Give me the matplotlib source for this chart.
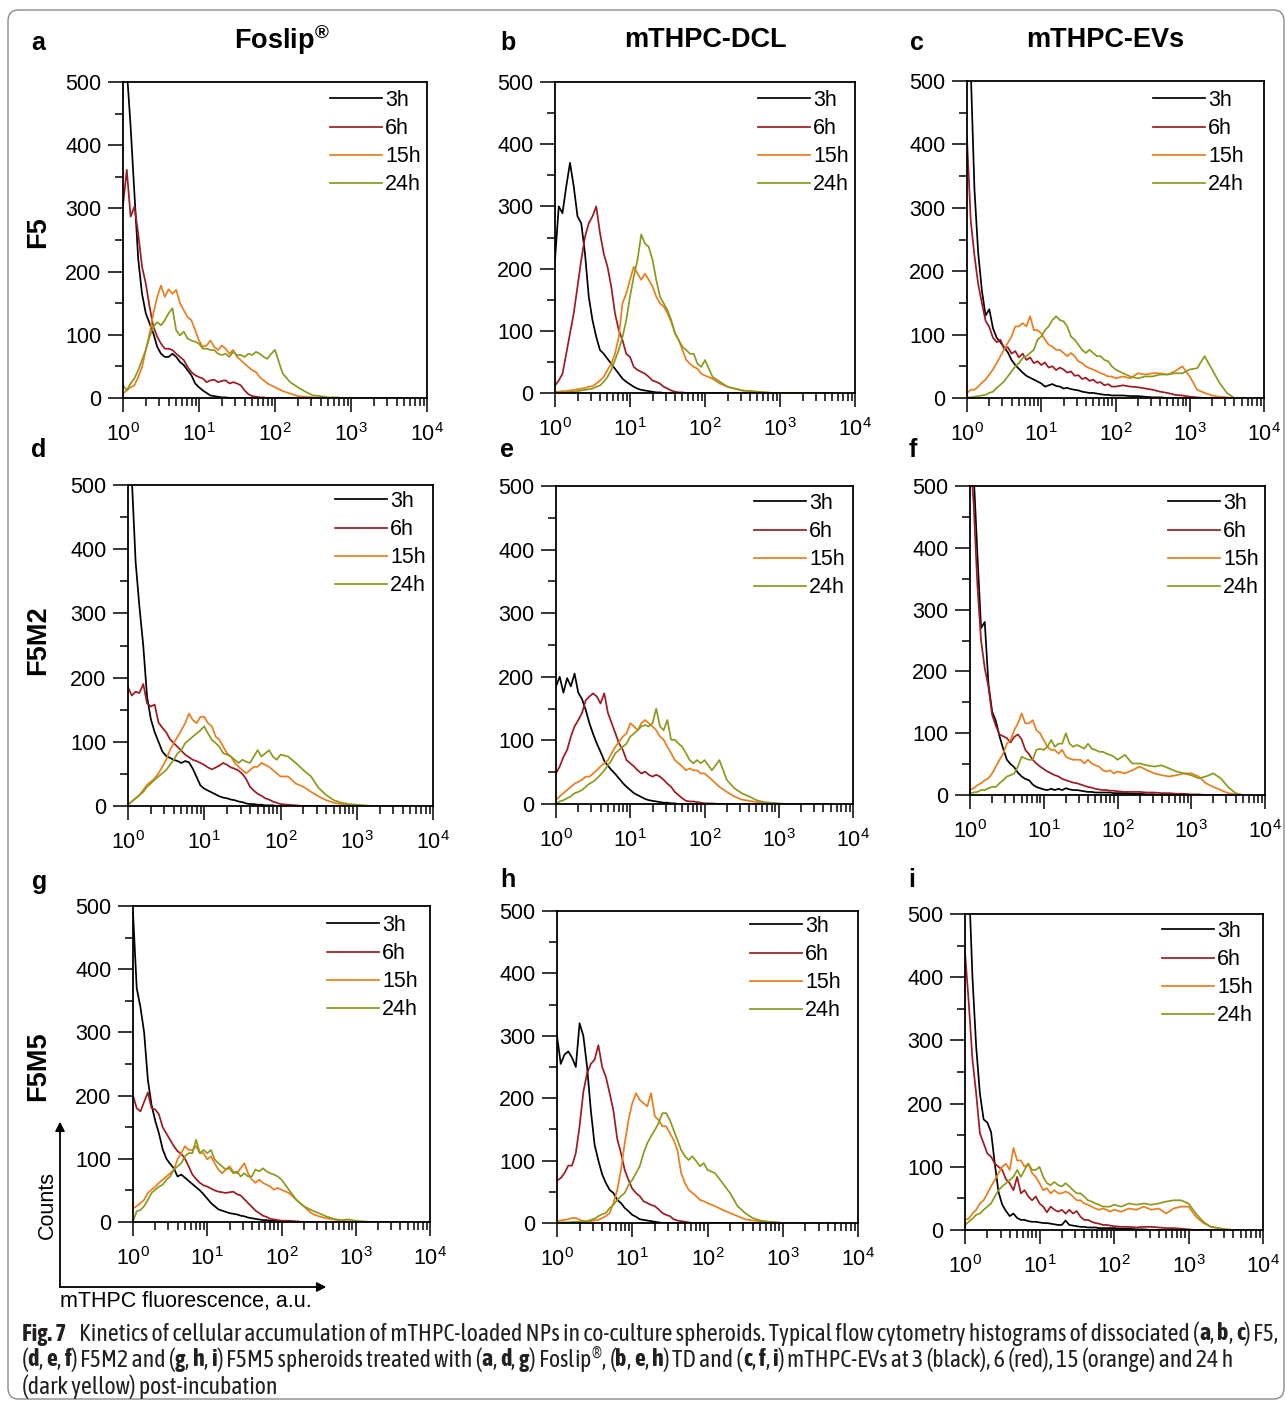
import numpy as np
import matplotlib
matplotlib.use("Agg")
import matplotlib.pyplot as plt
from matplotlib import font_manager
from matplotlib.patches import FancyBboxPatch
from matplotlib.ticker import LogLocator, NullFormatter

W, H = 1285, 1404

# fluorescence channels, log10 positions (0.05 decade up to 10^2, then 0.1)
log_fl = np.round(np.r_[np.arange(0, 2.0, 0.05), np.arange(2.0, 3.75, 0.1)], 2)

hours = ["3h", "6h", "15h", "24h"]
colors = ["#000000", "#9c1b20", "#ea7d1e", "#8c991c"]

# row F5
a_3h = [560, 520, 430, 324, 220, 165, 134, 118, 102, 81, 70, 65, 65, 70, 65, 57, 52, 44, 36, 23,
        17, 12, 8, 4, 3, 2, 1, 1, 0, 0, 0, 0, 0, 0, 0, 0, 0, 0, 0, 0,
        0, 0, 0, 0, 0, 0, 0, 0, 0, 0, 0, 0, 0, 0, 0, 0, 0, 0]
a_6h = [305, 361, 287, 303, 260, 208, 181, 144, 113, 97, 86, 78, 78, 76, 70, 65, 60, 49, 41, 36,
        33, 31, 25, 28, 29, 25, 27, 28, 23, 25, 23, 20, 12, 6, 3, 2, 1, 1, 0, 0,
        0, 0, 0, 0, 0, 0, 0, 0, 0, 0, 0, 0, 0, 0, 0, 0, 0, 0]
a_15h = [7, 12, 17, 20, 33, 49, 76, 102, 134, 160, 178, 160, 172, 165, 171, 150, 139, 128, 123, 107,
         91, 81, 83, 91, 81, 76, 83, 78, 70, 76, 65, 60, 54, 49, 44, 41, 33, 28, 23, 20,
         17, 11, 7, 3, 2, 1, 0, 0, 0, 0, 0, 0, 0, 0, 0, 0, 0, 0]
a_24h = [20, 12, 23, 31, 44, 60, 76, 97, 113, 120, 115, 123, 134, 142, 107, 99, 105, 94, 91, 89,
         86, 78, 78, 76, 76, 70, 68, 70, 65, 73, 68, 68, 65, 70, 68, 73, 70, 65, 62, 70,
         76, 39, 25, 17, 10, 4, 3, 1, 1, 0, 0, 0, 0, 0, 0, 0, 0, 0]

b_3h = [214, 300, 289, 332, 370, 332, 284, 273, 224, 155, 117, 90, 69, 63, 55, 47, 39, 31, 23, 18,
        14, 10, 7, 5, 4, 3, 2, 1, 1, 0, 0, 0, 0, 0, 0, 0, 0, 0, 0, 0,
        0, 0, 0, 0, 0, 0, 0, 0, 0, 0, 0, 0, 0, 0, 0, 0, 0, 0]
b_6h = [12, 20, 31, 63, 96, 128, 171, 214, 251, 273, 284, 300, 257, 224, 203, 171, 128, 101, 85, 63,
        58, 42, 37, 34, 31, 26, 20, 18, 15, 10, 7, 4, 2, 1, 1, 0, 0, 0, 0, 0,
        0, 0, 0, 0, 0, 0, 0, 0, 0, 0, 0, 0, 0, 0, 0, 0, 0, 0]
b_15h = [2, 2, 3, 3, 4, 5, 6, 7, 8, 10, 11, 15, 20, 26, 37, 47, 63, 90, 144, 160,
         182, 203, 192, 182, 192, 182, 171, 155, 144, 139, 128, 114, 96, 85, 69, 53, 47, 42, 39, 31,
         28, 23, 15, 10, 7, 4, 3, 2, 1, 0, 0, 0, 0, 0, 0, 0, 0, 0]
b_24h = [1, 1, 1, 1, 2, 2, 3, 4, 5, 6, 7, 10, 12, 18, 26, 37, 53, 69, 90, 117,
         155, 187, 214, 255, 240, 235, 214, 182, 155, 144, 133, 117, 96, 85, 74, 69, 63, 63, 47, 42,
         53, 26, 18, 10, 7, 4, 3, 2, 1, 0, 0, 0, 0, 0, 0, 0, 0, 0]

c_3h = [600, 520, 330, 230, 170, 130, 140, 110, 95, 88, 80, 72, 60, 52, 46, 40, 35, 32, 29, 26,
        23, 18, 20, 22, 19, 18, 15, 16, 14, 13, 12, 10, 9, 8, 8, 7, 6, 5, 5, 4,
        4, 4, 3, 3, 2, 1, 1, 0, 0, 0, 0, 0, 0, 0, 0, 0, 0, 0]
c_6h = [410, 280, 225, 180, 150, 122, 112, 95, 88, 92, 78, 80, 70, 74, 64, 70, 60, 64, 55, 58,
        52, 56, 48, 50, 44, 48, 45, 40, 42, 35, 36, 30, 32, 27, 29, 24, 25, 20, 22, 18,
        18, 20, 18, 17, 15, 13, 10, 8, 5, 4, 2, 1, 0, 0, 0, 0, 0, 0]
c_15h = [8, 13, 13, 18, 24, 29, 37, 45, 55, 66, 76, 87, 97, 113, 113, 118, 113, 129, 107, 107,
         102, 92, 84, 81, 76, 76, 71, 66, 71, 66, 58, 55, 50, 47, 45, 42, 39, 37, 34, 34,
         31, 34, 31, 39, 37, 39, 39, 37, 42, 50, 34, 13, 8, 4, 2, 1, 0, 0]
c_24h = [1, 1, 2, 3, 4, 5, 8, 10, 16, 21, 26, 34, 42, 50, 55, 63, 66, 71, 76, 92,
         97, 107, 113, 123, 129, 123, 121, 113, 97, 92, 84, 76, 71, 76, 71, 66, 66, 60, 58, 50,
         45, 39, 34, 31, 34, 34, 37, 37, 39, 39, 45, 47, 66, 45, 24, 8, 0, 0]

# row F5M2
d_3h = [600, 510, 380, 310, 250, 170, 135, 115, 100, 85, 78, 75, 72, 70, 67, 70, 68, 58, 45, 32,
        27, 24, 21, 18, 15, 13, 12, 10, 9, 7, 6, 4, 3, 3, 2, 2, 1, 1, 1, 0,
        0, 0, 0, 0, 0, 0, 0, 0, 0, 0, 0, 0, 0, 0, 0, 0, 0, 0]
d_6h = [185, 172, 178, 176, 190, 160, 155, 158, 130, 122, 115, 104, 98, 92, 86, 80, 76, 72, 70, 67,
        64, 60, 57, 60, 63, 67, 64, 60, 58, 55, 50, 42, 30, 24, 19, 16, 12, 10, 7, 5,
        3, 2, 1, 0, 0, 0, 0, 0, 0, 0, 0, 0, 0, 0, 0, 0, 0, 0]
d_15h = [2, 7, 12, 17, 25, 33, 38, 43, 51, 61, 72, 87, 98, 108, 118, 129, 144, 134, 129, 139,
         139, 129, 124, 108, 103, 92, 82, 77, 67, 61, 56, 51, 56, 61, 61, 67, 64, 61, 56, 51,
         46, 46, 35, 30, 22, 15, 9, 5, 3, 2, 1, 0, 0, 0, 0, 0, 0, 0]
d_24h = [2, 7, 12, 17, 22, 30, 35, 41, 46, 51, 56, 64, 72, 82, 87, 98, 103, 108, 113, 118,
         124, 113, 103, 98, 92, 82, 80, 77, 72, 67, 72, 69, 67, 77, 87, 77, 82, 87, 77, 72,
         80, 77, 67, 56, 46, 28, 17, 9, 5, 3, 2, 1, 0, 0, 0, 0, 0, 0]

e_3h = [185, 200, 175, 198, 185, 205, 175, 165, 148, 127, 110, 95, 82, 68, 60, 53, 47, 40, 33, 27,
        22, 17, 14, 11, 8, 6, 5, 4, 3, 2, 2, 1, 1, 0, 0, 0, 0, 0, 0, 0,
        0, 0, 0, 0, 0, 0, 0, 0, 0, 0, 0, 0, 0, 0, 0, 0, 0, 0]
e_6h = [48, 59, 74, 85, 106, 122, 132, 143, 163, 169, 174, 169, 158, 174, 143, 127, 111, 95, 85, 69,
        64, 59, 53, 48, 51, 46, 43, 46, 43, 38, 32, 27, 19, 14, 9, 5, 4, 4, 3, 2,
        1, 1, 0, 0, 0, 0, 0, 0, 0, 0, 0, 0, 0, 0, 0, 0, 0, 0]
e_15h = [6, 12, 17, 22, 27, 32, 35, 38, 43, 43, 48, 53, 59, 64, 69, 80, 90, 98, 106, 111,
         127, 122, 116, 127, 132, 127, 122, 116, 106, 101, 90, 80, 69, 64, 59, 53, 56, 53, 53, 48,
         48, 38, 27, 19, 12, 7, 5, 3, 2, 1, 0, 0, 0, 0, 0, 0, 0, 0]
e_24h = [1, 4, 6, 9, 12, 17, 19, 22, 27, 32, 35, 40, 46, 53, 61, 69, 80, 85, 90, 95,
         106, 111, 116, 122, 124, 122, 127, 150, 122, 116, 132, 101, 101, 95, 90, 80, 69, 64, 69, 64,
         69, 53, 69, 38, 25, 17, 12, 6, 3, 2, 1, 0, 0, 0, 0, 0, 0, 0]

f_3h = [600, 520, 390, 270, 280, 180, 135, 120, 95, 75, 57, 50, 45, 36, 30, 26, 24, 17, 13, 11,
        9, 8, 10, 8, 10, 8, 11, 9, 8, 8, 7, 6, 5, 5, 4, 4, 4, 4, 4, 3,
        3, 3, 2, 2, 1, 1, 0, 0, 0, 0, 0, 0, 0, 0, 0, 0, 0, 0]
f_6h = [560, 470, 340, 250, 205, 175, 130, 112, 98, 95, 92, 85, 94, 98, 90, 73, 66, 57, 51, 46,
        42, 38, 35, 32, 30, 26, 24, 22, 20, 19, 17, 15, 13, 12, 10, 9, 8, 8, 7, 7,
        6, 5, 5, 5, 4, 4, 3, 3, 2, 2, 1, 1, 0, 0, 0, 0, 0, 0]
f_15h = [8, 11, 16, 19, 24, 27, 35, 46, 57, 67, 83, 89, 105, 116, 132, 116, 116, 121, 105, 100,
         89, 78, 73, 73, 67, 73, 62, 59, 57, 57, 57, 51, 57, 51, 48, 46, 40, 38, 40, 35,
         38, 35, 40, 46, 40, 35, 32, 30, 32, 35, 35, 30, 19, 13, 8, 3, 1, 0]
f_24h = [3, 4, 5, 8, 8, 11, 13, 13, 19, 24, 30, 32, 35, 46, 62, 59, 57, 57, 73, 75,
         73, 78, 89, 78, 83, 83, 100, 83, 78, 81, 78, 75, 83, 75, 73, 70, 70, 67, 65, 62,
         57, 65, 51, 51, 48, 46, 48, 43, 38, 35, 32, 27, 30, 35, 27, 13, 3, 0]

# row F5M5
g_3h = [490, 370, 340, 300, 225, 185, 160, 140, 115, 100, 92, 85, 72, 75, 70, 65, 60, 55, 50, 44,
        37, 30, 25, 20, 18, 16, 14, 13, 12, 10, 9, 7, 6, 5, 4, 3, 3, 2, 2, 1,
        1, 0, 0, 0, 0, 0, 0, 0, 0, 0, 0, 0, 0, 0, 0, 0, 0, 0]
g_6h = [200, 180, 175, 190, 205, 180, 178, 170, 150, 140, 130, 120, 112, 108, 100, 88, 75, 68, 62, 58,
        56, 53, 50, 48, 47, 46, 47, 48, 44, 42, 36, 30, 24, 18, 14, 10, 8, 5, 4, 3,
        2, 2, 1, 0, 0, 0, 0, 0, 0, 0, 0, 0, 0, 0, 0, 0, 0, 0]
g_15h = [22, 25, 30, 35, 46, 51, 56, 62, 67, 72, 77, 83, 99, 109, 120, 114, 114, 120, 109, 109,
         99, 104, 93, 83, 77, 83, 88, 80, 77, 85, 93, 77, 67, 62, 67, 62, 59, 56, 51, 54,
         51, 46, 35, 25, 14, 9, 6, 4, 2, 1, 0, 0, 0, 0, 0, 0, 0, 0]
g_24h = [1, 17, 19, 25, 35, 46, 51, 56, 59, 67, 72, 83, 88, 93, 104, 109, 109, 130, 109, 114,
         109, 114, 99, 93, 88, 83, 85, 77, 80, 72, 77, 72, 72, 83, 80, 85, 80, 77, 75, 72,
         67, 51, 35, 25, 19, 14, 9, 5, 3, 4, 2, 1, 0, 0, 0, 0, 0, 0]

h_3h = [300, 255, 270, 275, 265, 250, 320, 300, 250, 180, 125, 100, 78, 64, 53, 48, 37, 32, 24, 19,
        13, 10, 6, 5, 4, 3, 2, 1, 0, 0, 0, 0, 0, 0, 0, 0, 0, 0, 0, 0,
        0, 0, 0, 0, 0, 0, 0, 0, 0, 0, 0, 0, 0, 0, 0, 0, 0, 0]
h_6h = [68, 72, 80, 92, 92, 112, 155, 210, 240, 255, 262, 285, 250, 234, 208, 180, 135, 112, 85, 69,
        55, 48, 43, 35, 32, 29, 27, 22, 16, 13, 11, 6, 4, 3, 2, 1, 0, 0, 0, 0,
        0, 0, 0, 0, 0, 0, 0, 0, 0, 0, 0, 0, 0, 0, 0, 0, 0, 0]
h_15h = [3, 4, 5, 6, 8, 8, 5, 3, 2, 3, 4, 5, 8, 11, 16, 32, 53, 85, 128, 165,
         192, 208, 197, 192, 187, 208, 171, 165, 155, 155, 144, 133, 117, 80, 64, 53, 48, 43, 37, 35,
         32, 27, 21, 16, 11, 6, 4, 3, 2, 1, 0, 0, 0, 0, 0, 0, 0, 0]
h_24h = [0, 1, 1, 1, 2, 2, 2, 3, 3, 5, 7, 11, 14, 16, 24, 29, 37, 43, 48, 61,
         69, 80, 91, 112, 128, 139, 149, 160, 176, 176, 165, 149, 133, 117, 107, 101, 107, 99, 91, 96,
         85, 80, 64, 48, 27, 16, 8, 4, 2, 1, 0, 0, 0, 0, 0, 0, 0, 0]

i_3h = [600, 560, 400, 290, 216, 175, 170, 155, 105, 60, 40, 30, 22, 26, 19, 16, 16, 14, 13, 13,
        12, 11, 11, 10, 9, 8, 8, 15, 8, 7, 6, 5, 5, 4, 4, 4, 3, 3, 3, 3,
        3, 2, 2, 1, 1, 0, 0, 0, 0, 0, 0, 0, 0, 0, 0, 0, 0, 0]
i_6h = [440, 360, 270, 216, 153, 137, 121, 116, 105, 100, 95, 80, 74, 63, 84, 58, 63, 53, 47, 53,
        42, 37, 28, 37, 32, 29, 32, 26, 32, 26, 30, 21, 16, 16, 13, 11, 10, 8, 8, 7,
        6, 5, 5, 4, 5, 5, 4, 3, 3, 2, 1, 0, 0, 0, 0, 0, 0, 0]
i_15h = [16, 18, 26, 32, 42, 47, 58, 69, 79, 90, 100, 105, 95, 130, 110, 110, 100, 105, 90, 84,
         74, 63, 66, 58, 63, 58, 58, 61, 58, 53, 47, 47, 42, 40, 37, 34, 32, 34, 32, 29,
         32, 29, 34, 32, 37, 32, 34, 26, 34, 37, 37, 21, 11, 5, 3, 1, 0, 0]
i_24h = [8, 13, 18, 24, 26, 32, 37, 42, 53, 63, 69, 74, 79, 84, 95, 84, 95, 105, 95, 95,
         100, 84, 74, 71, 76, 71, 69, 74, 69, 63, 58, 58, 53, 47, 45, 42, 40, 37, 37, 37,
         40, 37, 42, 40, 42, 40, 42, 45, 47, 47, 42, 26, 13, 5, 3, 1, 0, 0]

counts = {
    "a": [a_3h, a_6h, a_15h, a_24h], "b": [b_3h, b_6h, b_15h, b_24h], "c": [c_3h, c_6h, c_15h, c_24h],
    "d": [d_3h, d_6h, d_15h, d_24h], "e": [e_3h, e_6h, e_15h, e_24h], "f": [f_3h, f_6h, f_15h, f_24h],
    "g": [g_3h, g_6h, g_15h, g_24h], "h": [h_3h, h_6h, h_15h, h_24h], "i": [i_3h, i_6h, i_15h, i_24h],
}

# axes box in pixels (left, top, right, bottom), letter position, legend handle x / first row y
boxes = {
    "a": ((123, 82, 427, 398), (38, 43), (330, 100)),
    "b": ((555, 82, 855, 393), (508, 43), (758, 100)),
    "c": ((967, 81, 1264, 398), (917, 43), (1153, 100)),
    "d": ((128, 485, 433, 806), (39, 450), (335, 501)),
    "e": ((556, 486, 853, 804), (507, 450), (754, 503)),
    "f": ((970, 486, 1265, 795), (913, 450), (1168, 503)),
    "g": ((133, 906, 430, 1222), (40, 882), (327, 925)),
    "h": ((557, 911, 858, 1223), (508, 880), (750, 926)),
    "i": ((965, 914, 1263, 1230), (912, 880), (1162, 931)),
}

# caption lines, *...* marks bold
caption = [
    "*Fig. 7*    Kinetics of cellular accumulation of mTHPC-loaded NPs in co-culture spheroids. "
    "Typical flow cytometry histograms of dissociated (*a*, *b*, *c*) F5,",
    "(*d*, *e*, *f*) F5M2 and (*g*, *h*, *i*) F5M5 spheroids treated with (*a*, *d*, *g*) "
    r"Foslip$\mathregular{^{®}}$, (*b*, *e*, *h*) TD and (*c*, *f*, *i*) mTHPC-EVs at 3 (black), "
    "6 (red), 15 (orange) and 24 h",
    "(dark yellow) post-incubation",
]


def wnum(w):
    return w if isinstance(w, int) else font_manager.weight_dict.get(w, 400)


# pick a narrow face (with a bold weight) for the caption if one is installed
faces = {}
for f in font_manager.fontManager.ttflist:
    narrowish = "Narrow" in f.name or "Condensed" in f.name or f.stretch in ("condensed", "semi-condensed")
    if narrowish and f.style == "normal" and "Mono" not in f.name:
        st = "condensed" if f.stretch in ("condensed", "semi-condensed") else "normal"
        faces.setdefault((f.name, st), set()).add(wnum(f.weight))
good = sorted(k for k, ws in faces.items() if any(w >= 600 for w in ws) and any(350 <= w <= 500 for w in ws))
if good:
    cap_reg = dict(family=good[0][0], stretch=good[0][1])
    cap_bold = dict(family=good[0][0], stretch=good[0][1], fontweight="bold")
else:
    cap_reg = dict(family="Liberation Sans")
    cap_bold = dict(family="Liberation Sans", fontweight="bold")

plt.rcParams["font.family"] = ["Liberation Sans", "DejaVu Sans"]

fig = plt.figure(figsize=(W / 100, H / 100), dpi=100)
renderer = fig.canvas.get_renderer()
x = 10 ** log_fl


def ftext(px, py, s, **kw):
    return fig.text(px / W, 1 - py / H, s, **kw)


for key, (box, letter, leg) in boxes.items():
    l, t, r, b = box
    ax = fig.add_axes([l / W, 1 - b / H, (r - l) / W, (b - t) / H])
    for y, c, lab in zip(counts[key], colors, hours):
        ax.plot(x, y, color=c, lw=1.25, label=lab)
    ax.set_xscale("log")
    ax.set_xlim(1, 1e4)
    ax.set_ylim(0, 500)
    ax.set_xticks([1, 10, 100, 1000, 10000])
    ax.set_xticklabels([r"$\mathregular{10^{%d}}$" % k for k in range(5)])
    ax.xaxis.set_minor_locator(LogLocator(base=10, subs=np.arange(2, 10), numticks=20))
    ax.xaxis.set_minor_formatter(NullFormatter())
    ax.set_yticks(range(0, 501, 100))
    ax.set_yticks(range(50, 500, 100), minor=True)
    ax.tick_params(which="major", direction="out", length=10.5, width=1.1, labelsize=15.5)
    ax.tick_params(which="minor", direction="out", length=5.5, width=1.1)
    ax.tick_params(axis="x", which="major", length=10, pad=8)
    ax.tick_params(axis="y", pad=5)
    for sp in ax.spines.values():
        sp.set_linewidth(1.3)
    lx = (leg[0] - l) / (r - l)
    ly = 1 - (leg[1] - 10 - t) / (b - t)
    ax.legend(loc="upper left", bbox_to_anchor=(lx, ly), frameon=False, fontsize=15.5,
              handlelength=2.4, handletextpad=0.15, labelspacing=0.33, borderpad=0,
              borderaxespad=0)
    ftext(letter[0], letter[1], key, fontsize=18, fontweight="bold", ha="center", va="center")

ftext(282, 40, r"Foslip$\mathregular{^{®}}$", fontsize=19.5, fontweight="bold", ha="center", va="center")
ftext(705, 40, "mTHPC-DCL", fontsize=19.5, fontweight="bold", ha="center", va="center")
ftext(1105, 40, "mTHPC-EVs", fontsize=19.5, fontweight="bold", ha="center", va="center")

for lab, py in [("F5", 232), ("F5M2", 640), ("F5M5", 1066)]:
    ftext(38, py, lab, fontsize=19.5, fontweight="bold", rotation=90, ha="center", va="center")

# axis hint arrows in the bottom-left corner
fig.add_artist(plt.annotate("", xy=(60 / W, 1 - 1122 / H), xytext=(60 / W, 1 - 1287 / H),
                            xycoords="figure fraction", textcoords="figure fraction",
                            arrowprops=dict(arrowstyle="-|>", lw=1.0, color="black",
                                            mutation_scale=14, shrinkA=0, shrinkB=0)))
fig.add_artist(plt.annotate("", xy=(326 / W, 1 - 1287 / H), xytext=(59.5 / W, 1 - 1287 / H),
                            xycoords="figure fraction", textcoords="figure fraction",
                            arrowprops=dict(arrowstyle="-|>", lw=1.0, color="black",
                                            mutation_scale=14, shrinkA=0, shrinkB=0)))
ftext(47, 1205, "Counts", fontsize=15.5, rotation=90, ha="center", va="center")
ftext(60, 1302, "mTHPC fluorescence, a.u.", fontsize=15.5, ha="left", va="center")


def seg_width(s, props, size):
    # measure with a trailing bar so that spaces at the ends count
    t1 = fig.text(0, 0, s + "|", fontsize=size, **props)
    t2 = fig.text(0, 0, "|", fontsize=size, **props)
    w = t1.get_window_extent(renderer).width - t2.get_window_extent(renderer).width
    t1.remove()
    t2.remove()
    return w


def line_parts(line):
    return [(s, cap_bold if k % 2 else cap_reg) for k, s in enumerate(line.split("*")) if s]


cap_y = [1334, 1360, 1387]
cap_right = [1279, 1262]
size = min(14 * (right - 22) / sum(seg_width(s, p, 14) for s, p in line_parts(line))
           for line, right in zip(caption, cap_right))
for line, py in zip(caption, cap_y):
    px = 22
    for s, p in line_parts(line):
        ftext(px, py, s, fontsize=size, color="#231f20", ha="left", va="center", **p)
        px += seg_width(s, p, size)

fig.add_artist(FancyBboxPatch((8 / W, 1 - 1399 / H), (1284 - 8) / W, (1399 - 10) / H,
                              boxstyle="round,pad=0,rounding_size=0.008", transform=fig.transFigure,
                              fill=False, ec="#8a8a8a", lw=1.0))

fig.savefig("out.png", dpi=100)
